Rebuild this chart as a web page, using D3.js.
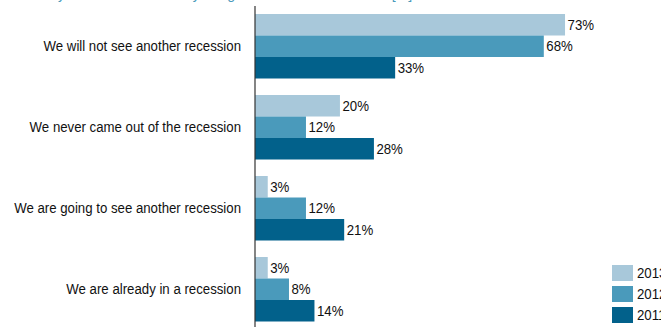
<!DOCTYPE html>
<html>
<head>
<meta charset="utf-8">
<script src="https://cdn.jsdelivr.net/npm/d3@7/dist/d3.min.js"></script>
<style>
  html, body { margin: 0; padding: 0; background: #fff; }
  svg { display: block; font-family: "Liberation Sans", Arial, sans-serif; }
</style>
</head>
<body>
<svg id="chart" width="661" height="327"></svg>
<script>
// Survey answers, share of respondents by year
const categories = [
  "We will not see another recession",
  "We never came out of the recession",
  "We are going to see another recession",
  "We are already in a recession"
];
const years = ["2013", "2012", "2011"];
const values2013 = [73, 20, 3, 3];
const values2012 = [68, 12, 12, 8];
const values2011 = [33, 28, 21, 14];
const seriesValues = { "2013": values2013, "2012": values2012, "2011": values2011 };
const colors = { "2013": "#a8c8da", "2012": "#4a9abb", "2011": "#02618b" };
const titleText = "Do you think the economy will get better or worse soon? [%]";

const svg = d3.select("#chart");
const fs = 14;
const squeeze = 0.945; // slightly condensed lettering
const place = (px, py) => `translate(${px},${py}) scale(${squeeze},1)`;

const x = d3.scaleLinear().domain([0, 100]).range([255, 679.7]);
const y = d3.scaleBand().domain(categories).range([5.75, 329.75])
  .paddingInner(0.2037).paddingOuter(0.10185);
const yInner = d3.scaleBand().domain(years).range([0, y.bandwidth()]);

// Title sits mostly above the visible area
svg.append("text")
  .attr("transform", place(36, -1.5))
  .attr("font-size", 15)
  .attr("fill", "#4a9abb")
  .text(titleText);

const rows = categories.map((c, i) => ({
  category: c,
  bars: years.map(yr => ({ year: yr, value: seriesValues[yr][i] }))
}));

const group = svg.selectAll("g.group").data(rows).join("g")
  .attr("class", "group")
  .attr("transform", d => `translate(0,${y(d.category)})`);

group.selectAll("rect").data(d => d.bars).join("rect")
  .attr("x", x(0))
  .attr("y", d => yInner(d.year))
  .attr("width", d => x(d.value) - x(0))
  .attr("height", yInner.bandwidth())
  .attr("fill", d => colors[d.year]);

group.selectAll("text.val").data(d => d.bars).join("text")
  .attr("class", "val")
  .attr("transform", d => place(x(d.value) + 2.5, yInner(d.year) + yInner.bandwidth() / 2))
  .attr("dy", "0.37em")
  .attr("font-size", fs)
  .attr("fill", "#111")
  .text(d => d.value + "%");

// Category labels, right aligned against the axis
svg.selectAll("text.cat").data(categories).join("text")
  .attr("class", "cat")
  .attr("transform", d => place(241, y(d) + y.bandwidth() / 2))
  .attr("dy", "0.37em")
  .attr("text-anchor", "end")
  .attr("font-size", fs)
  .attr("fill", "#111")
  .text(d => d);

// Vertical baseline
svg.append("line")
  .attr("x1", x(0)).attr("x2", x(0))
  .attr("y1", 6).attr("y2", 327)
  .attr("stroke", "#333").attr("stroke-width", 1.2);

// Legend
const legend = svg.selectAll("g.legend").data(years).join("g")
  .attr("class", "legend")
  .attr("transform", (d, i) => `translate(612,${265 + i * 21})`);
legend.append("rect")
  .attr("width", 21).attr("height", 16)
  .attr("fill", d => colors[d]);
legend.append("text")
  .attr("transform", place(25, 8))
  .attr("dy", "0.37em")
  .attr("font-size", fs).attr("fill", "#111")
  .text(d => d);
</script>
</body>
</html>
